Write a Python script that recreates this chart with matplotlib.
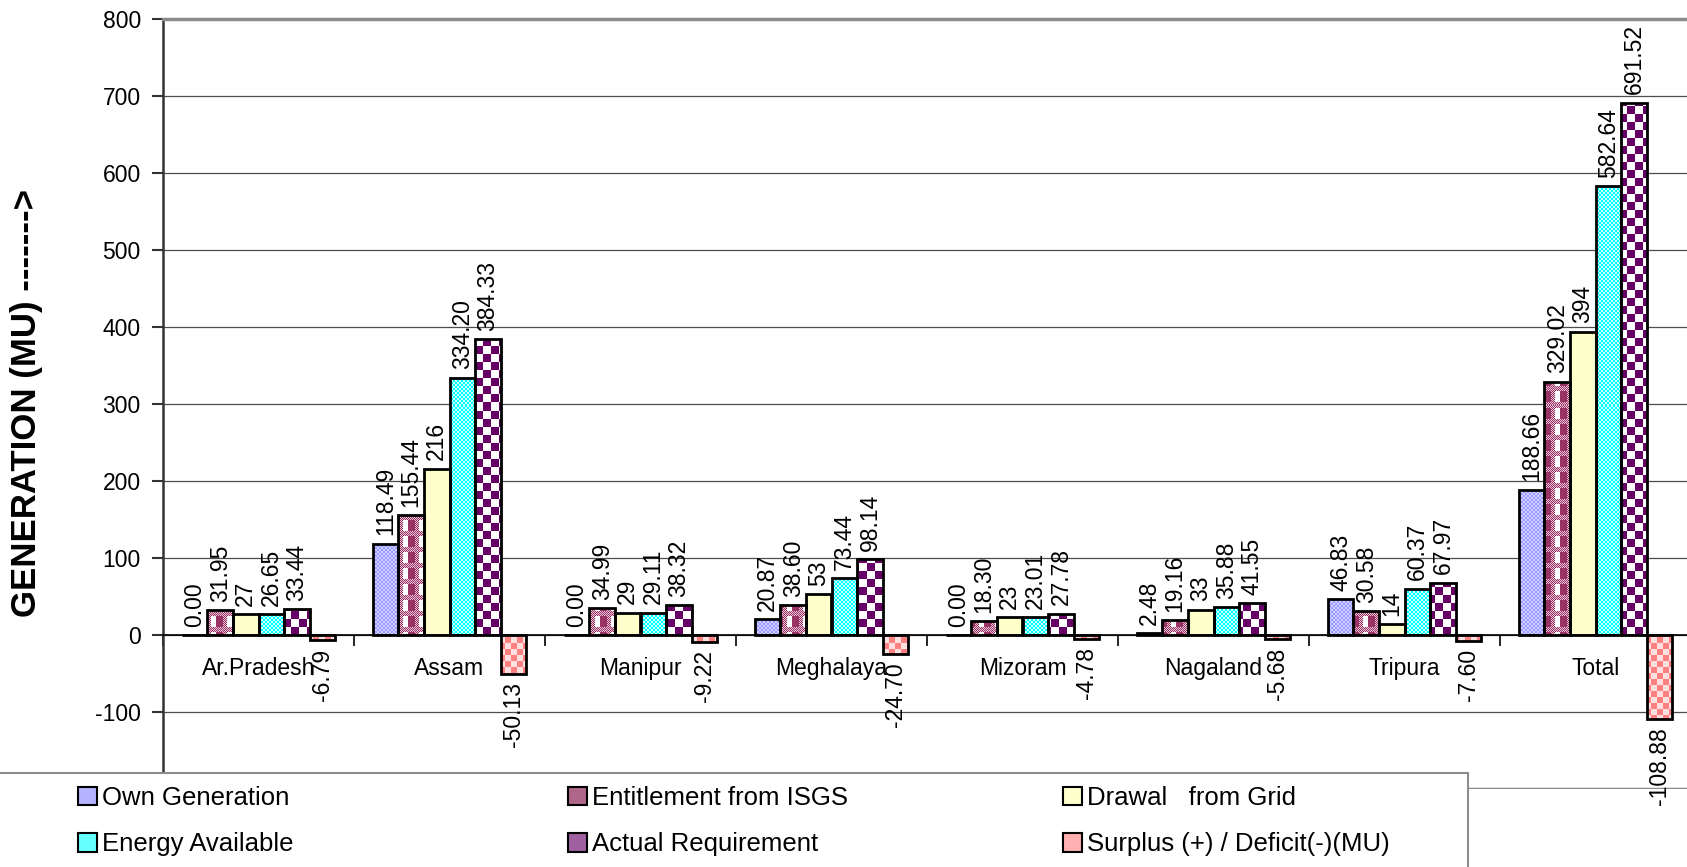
import numpy as np
import matplotlib
matplotlib.use('Agg')
import matplotlib.pyplot as plt
from matplotlib.colors import to_rgb
from matplotlib.patches import Patch, PathPatch, Rectangle
from matplotlib.path import Path

plt.rcParams['font.family'] = ['Liberation Sans', 'DejaVu Sans']
plt.rcParams['axes.unicode_minus'] = False

estados = ['Ar.Pradesh', 'Assam', 'Manipur', 'Meghalaya', 'Mizoram',
           'Nagaland', 'Tripura', 'Total']

own_generation = [0.00, 118.49, 0.00, 20.87, 0.00, 2.48, 46.83, 188.66]
entitlement_isgs = [31.95, 155.44, 34.99, 38.60, 18.30, 19.16, 30.58, 329.02]
drawal_grid = [27, 216, 29, 53, 23, 33, 14, 394]
energy_available = [26.65, 334.20, 29.11, 73.44, 23.01, 35.88, 60.37, 582.64]
actual_requirement = [33.44, 384.33, 38.32, 98.14, 27.78, 41.55, 67.97, 691.52]
surplus_deficit = [-6.79, -50.13, -9.22, -24.70, -4.78, -5.68, -7.60, -108.88]

nomes = ['Own Generation', 'Entitlement from ISGS', 'Drawal   from Grid',
         'Energy Available', 'Actual Requirement', 'Surplus (+) / Deficit(-)(MU)']
formatos = ['{:.2f}', '{:.2f}', '{:.0f}', '{:.2f}', '{:.2f}', '{:.2f}']
series = [own_generation, entitlement_isgs, drawal_grid,
          energy_available, actual_requirement, surplus_deficit]

# cores medias (legenda) e cores base das barras
cores_legenda = ['#b3b3ff', '#b0668a', '#ffffcc', '#66ffff', '#a060a0', '#ffb0b0']
cores_base = ['#b3b3ff', '#a85580', '#ffffcc', '#60ffff', '#b380b3', '#ffb0b0']


def rgb(c):
    return np.array(to_rgb(c))


def tile_xadrez(c1, c2, n):
    i, j = np.indices((2 * n, 2 * n))
    m = ((i // n + j // n) % 2).astype(bool)
    t = np.empty((2 * n, 2 * n, 3))
    t[:] = rgb(c1)
    t[m] = rgb(c2)
    return t


def tile_isgs():
    # xadrez fino em faixas + colunas bordo/branco
    fino = tile_xadrez('#993366', '#e8c4d6', 1)
    t = np.tile(fino, (8, 8, 1))
    t[5:, 0:5] = rgb('#ffffff')
    t[5:, 5:12] = rgb('#993366')
    return t


tiles = [tile_xadrez('#9999ff', '#d0d0ff', 2),
         tile_isgs(),
         None,
         tile_xadrez('#00ffff', '#c8ffff', 2),
         tile_xadrez('#660066', '#ffffff', 8),
         tile_xadrez('#ff8080', '#ffe0e0', 6)]

W_FIG, H_FIG = 1687, 867
fig = plt.figure(figsize=(W_FIG / 100, H_FIG / 100), dpi=100)
ax = fig.add_axes([163 / W_FIG, 1 - 789 / H_FIG, (1691 - 163) / W_FIG, (789 - 19) / H_FIG])

xlim = (-0.5, 7.5)
ylim = (-200, 800)
larg = 0.134
x = np.arange(len(estados))

W_ax = 1691 - 163
H_ax = 789 - 19

for k, valores in enumerate(series):
    pos = x + (k - 2.5) * larg
    barras = ax.bar(pos, valores, larg, color=cores_base[k], edgecolor='none', zorder=2)
    if tiles[k] is not None:
        t = tiles[k]
        grande = np.tile(t, (H_ax // t.shape[0] + 1, W_ax // t.shape[1] + 1, 1))[:H_ax, :W_ax]
        im = ax.imshow(grande, extent=(xlim[0], xlim[1], ylim[0], ylim[1]), origin='upper',
                       aspect='auto', interpolation='nearest', zorder=2.5)
        caminho = Path.make_compound_path(
            *[b.get_path().transformed(b.get_patch_transform()) for b in barras])
        im.set_clip_path(PathPatch(caminho, transform=ax.transData))
    ax.bar(pos, valores, larg, fill=False, edgecolor='black', linewidth=2.0, zorder=3)
    for xi, v in zip(pos, valores):
        txt = formatos[k].format(v)
        if v >= 0:
            ax.annotate(txt, (xi, v), xytext=(0, 6), textcoords='offset points',
                        rotation=90, ha='center', va='bottom', fontsize=16.5, zorder=4)
        else:
            ax.annotate(txt, (xi, v), xytext=(0, -6), textcoords='offset points',
                        rotation=90, ha='center', va='top', fontsize=16.5, zorder=4,
                        annotation_clip=False)

ax.set_xlim(*xlim)
ax.set_ylim(*ylim)

# eixo das categorias cruzando em zero
ax.spines['bottom'].set_position(('data', 0))
ax.spines['bottom'].set_color('black')
ax.spines['bottom'].set_linewidth(1.2)
ax.set_xticks(x)
ax.set_xticklabels(estados, fontsize=16.5)
ax.set_xticks(np.arange(-0.5, 8, 1), minor=True)
ax.tick_params(axis='x', which='major', length=0, pad=16)
ax.tick_params(axis='x', which='minor', length=8, width=1.2, direction='out')

ax.set_yticks(range(-100, 801, 100))
ax.tick_params(axis='y', labelsize=16.5, length=8, width=1.5, pad=8, color='#333333')
ax.spines['left'].set_color('#333333')
ax.spines['left'].set_linewidth(1.8)
for lado in ['top', 'right']:
    ax.spines[lado].set_color('#8c8c8c')
    ax.spines[lado].set_linewidth(2.5)
ax.axhline(-200, color='#8c8c8c', linewidth=2.5, zorder=1)
ax.yaxis.grid(True, color='#4d4d4d', linewidth=0.9)
ax.set_axisbelow(True)

fig.text(27 / W_FIG, 1 - 403 / H_FIG, 'GENERATION (MU) ------->', rotation=90,
         ha='center', va='center', fontsize=25, fontweight='bold')

# caixa da legenda
caixa = Rectangle((-2 / W_FIG, -0.05), 1470 / W_FIG, 0.05 + 1 - 773 / H_FIG,
                  transform=fig.transFigure, facecolor='white', edgecolor='#8c8c8c',
                  linewidth=1.5, zorder=4)
fig.add_artist(caixa)

handles = [Patch(facecolor=c, edgecolor='black', linewidth=1.5) for c in cores_legenda]
x_colunas = [78, 568, 1063]
for col in range(3):
    leg = fig.legend([handles[col], handles[col + 3]], [nomes[col], nomes[col + 3]],
                     loc='upper left', bbox_to_anchor=(x_colunas[col] / W_FIG, 1 - 786 / H_FIG),
                     frameon=False, fontsize=18.5, handlelength=0.72, handleheight=0.72,
                     handletextpad=0.2, labelspacing=0.87, borderpad=0, borderaxespad=0)
    leg.set_zorder(5)

fig.savefig('out.png', dpi=100)
